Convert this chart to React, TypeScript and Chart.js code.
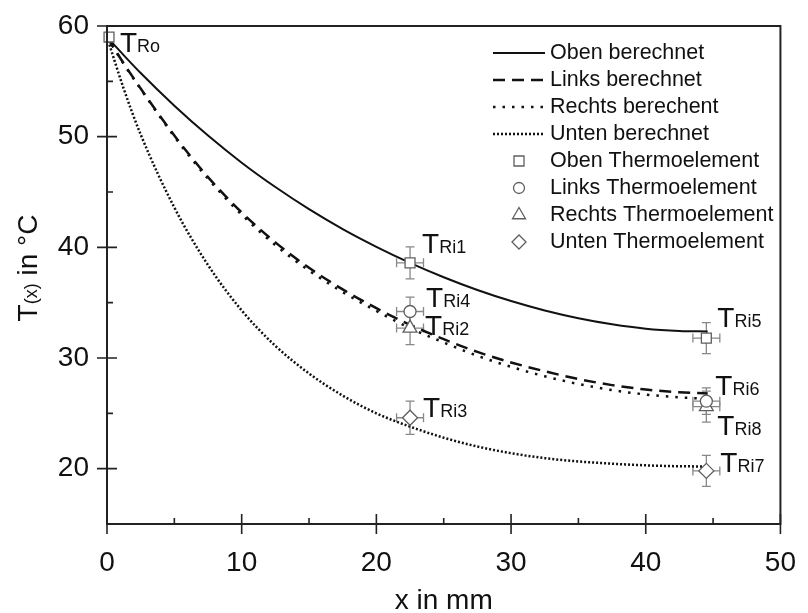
import React, { useEffect, useRef } from 'react';
import { Chart, registerables } from 'chart.js';
Chart.register(...registerables);

const FONT = '"Liberation Sans", Arial, Helvetica, sans-serif';

// ---- calculated curves ----
const xCalc = [0, 1.25, 2.5, 5, 7.5, 10, 12.5, 15, 17.5, 20, 22.5, 25, 27.5, 30, 32.5, 35, 37.5, 40, 42.5, 44.6];
const obenCalc = [59.0, 57.35, 55.75, 52.8, 50.1, 47.65, 45.45, 43.45, 41.65, 40.05, 38.6, 37.3, 36.15, 35.15, 34.3, 33.6, 33.05, 32.65, 32.45, 32.4];
const linksCalc = [59.0, 56.6, 54.35, 50.1, 46.35, 43.15, 40.45, 38.15, 36.2, 34.5, 33.0, 31.7, 30.55, 29.6, 28.8, 28.1, 27.55, 27.15, 26.9, 26.8];
const rechtsCalc = [59.0, 56.55, 54.3, 50.0, 46.2, 42.95, 40.2, 37.9, 35.95, 34.25, 32.7, 31.4, 30.2, 29.2, 28.35, 27.65, 27.1, 26.7, 26.45, 26.3];
const untenCalc = [59.0, 54.3, 50.2, 43.6, 38.4, 34.3, 31.1, 28.6, 26.6, 25.0, 23.8, 22.8, 22.0, 21.4, 20.95, 20.65, 20.45, 20.3, 20.22, 20.2];

// ---- thermocouple measurements ----
const obenMeasX = [0.15, 22.5, 44.5];
const obenMeasY = [59.0, 38.6, 31.8];
const obenErrX = [0, 1.0, 1.0];
const obenErrY = [0, 1.45, 1.4];
const obenNames = ['Ro', 'Ri1', 'Ri5'];

const linksMeasX = [22.5, 44.5];
const linksMeasY = [34.2, 26.1];
const linksErrX = [1.0, 1.0];
const linksErrY = [1.3, 1.2];
const linksNames = ['Ri4', 'Ri6'];

const rechtsMeasX = [22.5, 44.5];
const rechtsMeasY = [32.7, 25.6];
const rechtsErrX = [1.0, 1.0];
const rechtsErrY = [1.5, 1.4];
const rechtsNames = ['Ri2', 'Ri8'];

const untenMeasX = [22.5, 44.5];
const untenMeasY = [24.6, 19.8];
const untenErrX = [1.0, 1.0];
const untenErrY = [1.5, 1.4];
const untenNames = ['Ri3', 'Ri7'];

// ---- axes ----
const xTickValues = [0, 10, 20, 30, 40, 50];
const yTickValues = [20, 30, 40, 50, 60];
const xMinorValues = [5, 15, 25, 35, 45];
const yMinorValues = [25, 35, 45, 55];

const legendLabels = [
  'Oben berechnet', 'Links berechnet', 'Rechts berechent', 'Unten berechnet',
  'Oben Thermoelement', 'Links Thermoelement', 'Rechts Thermoelement', 'Unten Thermoelement',
];

// layout-only: label offsets (px) relative to the marker
const labelOffsets: Record<string, [number, number]> = {
  Ro: [11, 15], Ri1: [12, -10], Ri5: [11, -11], Ri4: [16, -5], Ri6: [9, -6],
  Ri2: [15, 7], Ri8: [11, 28], Ri3: [13, -1], Ri7: [14, 1],
};

const MARK_STROKE = '#5f5f5f';
const ERR_COLOR = '#888';

type Group = { xs: number[]; ys: number[]; ex: number[]; ey: number[]; names: string[]; style: string; radius: number };
const groups: Group[] = [
  { xs: obenMeasX, ys: obenMeasY, ex: obenErrX, ey: obenErrY, names: obenNames, style: 'rect', radius: 7 },
  { xs: linksMeasX, ys: linksMeasY, ex: linksErrX, ey: linksErrY, names: linksNames, style: 'circle', radius: 6 },
  { xs: rechtsMeasX, ys: rechtsMeasY, ex: rechtsErrX, ey: rechtsErrY, names: rechtsNames, style: 'triangle', radius: 8 },
  { xs: untenMeasX, ys: untenMeasY, ex: untenErrX, ey: untenErrY, names: untenNames, style: 'rectRot', radius: 7.5 },
];

const lineStyles = [
  { values: obenCalc, dash: [] as number[], width: 2 },
  { values: linksCalc, dash: [12, 7], width: 2.5 },
  { values: rechtsCalc, dash: [2.5, 7], width: 2.5 },
  { values: untenCalc, dash: [2, 2], width: 2.5 },
];

function drawMarker(ctx: CanvasRenderingContext2D, style: string, x: number, y: number) {
  ctx.save();
  ctx.strokeStyle = MARK_STROKE;
  ctx.fillStyle = '#fff';
  ctx.lineWidth = 1.3;
  ctx.beginPath();
  if (style === 'rect') {
    ctx.rect(x - 5, y - 5, 10, 10);
  } else if (style === 'circle') {
    ctx.arc(x, y, 5.5, 0, Math.PI * 2);
  } else if (style === 'triangle') {
    const r = 7.5;
    for (let k = 0; k < 3; k++) {
      const a = (k * 2 * Math.PI) / 3;
      const px = x + Math.sin(a) * r;
      const py = y - Math.cos(a) * r;
      if (k === 0) ctx.moveTo(px, py); else ctx.lineTo(px, py);
    }
    ctx.closePath();
  } else {
    const r = 7;
    ctx.moveTo(x - r, y); ctx.lineTo(x, y - r); ctx.lineTo(x + r, y); ctx.lineTo(x, y + r); ctx.closePath();
  }
  ctx.fill();
  ctx.stroke();
  ctx.restore();
}

const decorPlugin = {
  id: 'decor',
  beforeDatasetsDraw(chart: any) {
    const ctx: CanvasRenderingContext2D = chart.ctx;
    const xs = chart.scales.x, ys = chart.scales.y;
    ctx.save();
    ctx.strokeStyle = ERR_COLOR;
    ctx.lineWidth = 1.3;
    const cap = 4.5;
    groups.forEach((g) => {
      g.xs.forEach((xv, i) => {
        const px = xs.getPixelForValue(xv);
        const py = ys.getPixelForValue(g.ys[i]);
        if (g.ey[i] > 0) {
          const t = ys.getPixelForValue(g.ys[i] + g.ey[i]);
          const b = ys.getPixelForValue(g.ys[i] - g.ey[i]);
          ctx.beginPath();
          ctx.moveTo(px, t); ctx.lineTo(px, b);
          ctx.moveTo(px - cap, t); ctx.lineTo(px + cap, t);
          ctx.moveTo(px - cap, b); ctx.lineTo(px + cap, b);
          ctx.stroke();
        }
        if (g.ex[i] > 0) {
          const l = xs.getPixelForValue(xv - g.ex[i]);
          const r = xs.getPixelForValue(xv + g.ex[i]);
          ctx.beginPath();
          ctx.moveTo(l, py); ctx.lineTo(r, py);
          ctx.moveTo(l, py - cap); ctx.lineTo(l, py + cap);
          ctx.moveTo(r, py - cap); ctx.lineTo(r, py + cap);
          ctx.stroke();
        }
      });
    });
    ctx.restore();
  },
  afterDraw(chart: any) {
    const ctx: CanvasRenderingContext2D = chart.ctx;
    const { left, right, top, bottom } = chart.chartArea;
    const xs = chart.scales.x, ys = chart.scales.y;
    ctx.save();
    // frame
    ctx.strokeStyle = '#222';
    ctx.lineWidth = 2;
    ctx.strokeRect(left, top, right - left, bottom - top);
    // ticks
    ctx.lineWidth = 1.6;
    ctx.beginPath();
    xTickValues.forEach((v) => {
      const p = xs.getPixelForValue(v);
      ctx.moveTo(p, bottom - 10); ctx.lineTo(p, bottom + 10);
    });
    xMinorValues.forEach((v) => {
      const p = xs.getPixelForValue(v);
      ctx.moveTo(p, bottom - 6); ctx.lineTo(p, bottom);
    });
    yTickValues.forEach((v) => {
      const p = ys.getPixelForValue(v);
      ctx.moveTo(left - 10, p); ctx.lineTo(left + 10, p);
    });
    yMinorValues.forEach((v) => {
      const p = ys.getPixelForValue(v);
      ctx.moveTo(left, p); ctx.lineTo(left + 6, p);
    });
    ctx.stroke();

    // axis titles
    ctx.fillStyle = '#111';
    ctx.textBaseline = 'alphabetic';
    ctx.font = `28px ${FONT}`;
    ctx.textAlign = 'center';
    ctx.fillText('x in mm', (left + right) / 2, 609);

    ctx.save();
    ctx.translate(37, (top + bottom) / 2 - 7);
    ctx.rotate(-Math.PI / 2);
    ctx.textAlign = 'left';
    const parts: [string, number][] = [['T', 28], ['(x)', 18], [' in °C', 28]];
    let total = 0;
    parts.forEach(([s, f]) => { ctx.font = `${f}px ${FONT}`; total += ctx.measureText(s).width; });
    let cx = -total / 2;
    parts.forEach(([s, f]) => {
      ctx.font = `${f}px ${FONT}`;
      ctx.fillText(s, cx, 0);
      cx += ctx.measureText(s).width;
    });
    ctx.restore();

    // point labels
    groups.forEach((g) => {
      g.xs.forEach((xv, i) => {
        const px = xs.getPixelForValue(xv);
        const py = ys.getPixelForValue(g.ys[i]);
        const off = labelOffsets[g.names[i]] || [10, 0];
        const lx = px + off[0];
        const ly = py + off[1];
        ctx.textAlign = 'left';
        ctx.font = `28px ${FONT}`;
        ctx.fillText('T', lx, ly);
        const tw = ctx.measureText('T').width;
        ctx.font = `18px ${FONT}`;
        ctx.fillText(g.names[i], lx + tw, ly);
      });
    });

    // legend
    const lx0 = 493, lx1 = 545, tx = 550;
    legendLabels.forEach((label, i) => {
      const y = 53 + 27 * i;
      if (i < 4) {
        const st = lineStyles[i];
        ctx.save();
        ctx.strokeStyle = '#111';
        ctx.lineWidth = st.width;
        ctx.setLineDash(st.dash);
        ctx.beginPath();
        ctx.moveTo(lx0, y); ctx.lineTo(lx1, y);
        ctx.stroke();
        ctx.restore();
      } else {
        drawMarker(ctx, groups[i - 4].style, (lx0 + lx1) / 2, y);
      }
      ctx.fillStyle = '#111';
      ctx.font = `21.5px ${FONT}`;
      ctx.textAlign = 'left';
      ctx.textBaseline = 'middle';
      ctx.fillText(label, tx, y);
      ctx.textBaseline = 'alphabetic';
    });
    ctx.restore();
  },
};

export default function App() {
  const ref = useRef<HTMLCanvasElement | null>(null);
  useEffect(() => {
    if (!ref.current) return;
    const datasets: any[] = [];
    groups.forEach((g, gi) => {
      datasets.push({
        label: legendLabels[gi + 4],
        data: g.xs.map((x, i) => ({ x, y: g.ys[i] })),
        showLine: false,
        pointStyle: g.style,
        pointRadius: g.radius,
        pointHoverRadius: g.radius,
        pointBorderColor: MARK_STROKE,
        pointBackgroundColor: '#fff',
        pointBorderWidth: 1.3,
        clip: false,
        order: 0,
      });
    });
    lineStyles.forEach((st, li) => {
      datasets.push({
        label: legendLabels[li],
        data: xCalc.map((x, i) => ({ x, y: st.values[i] })),
        borderColor: '#111',
        borderWidth: st.width,
        borderDash: st.dash,
        pointRadius: 0,
        fill: false,
        cubicInterpolationMode: 'monotone',
        order: 1,
      });
    });
    const tickFont = { family: FONT, size: 28 };
    const chart = new Chart(ref.current, {
      type: 'line',
      data: { datasets },
      options: {
        responsive: false,
        animation: false,
        devicePixelRatio: 1,
        layout: { padding: { top: 26, right: 26, left: 0, bottom: 0 } },
        plugins: { legend: { display: false }, tooltip: { enabled: false } },
        events: [],
        scales: {
          x: {
            type: 'linear', min: 0, max: 50,
            grid: { display: false, drawTicks: true, tickLength: 10 },
            border: { display: false },
            ticks: { font: tickFont, color: '#111', padding: 12, maxRotation: 0 },
            afterBuildTicks: (s: any) => { s.ticks = xTickValues.map((v) => ({ value: v })); },
            afterFit: (s: any) => { s.height = 89; },
          },
          y: {
            type: 'linear', min: 15, max: 60,
            grid: { display: false, drawTicks: true, tickLength: 10 },
            border: { display: false },
            ticks: { font: tickFont, color: '#111', padding: 8 },
            afterBuildTicks: (s: any) => { s.ticks = yTickValues.map((v) => ({ value: v })); },
            afterFit: (s: any) => { s.width = 107; },
          },
        },
      } as any,
      plugins: [decorPlugin],
    });
    return () => chart.destroy();
  }, []);
  return (
    <div style={{ position: 'absolute', left: 0, top: 0, width: 808, height: 613, background: '#fff' }}>
      <canvas ref={ref} width={808} height={613} style={{ display: 'block' }} />
    </div>
  );
}
